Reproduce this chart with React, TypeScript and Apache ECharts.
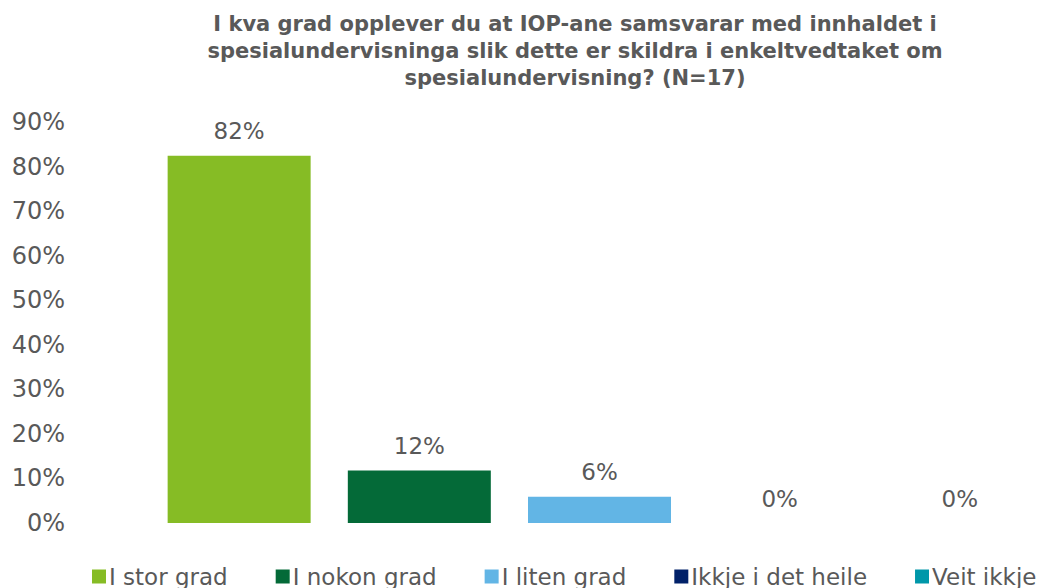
import React, { useEffect, useRef } from "react";
import * as echarts from "echarts";

const titleText =
  "I kva grad opplever du at IOP-ane samsvarar med innhaldet i\nspesialundervisninga slik dette er skildra i enkeltvedtaket om\nspesialundervisning? (N=17)";
const seriesNames = ["I stor grad", "I nokon grad", "I liten grad", "Ikkje i det heile", "Veit ikkje"];
const seriesValues = [82.4, 11.8, 5.9, 0, 0];
const seriesColors = ["#86BC25", "#046A38", "#62B5E5", "#012169", "#0097A9"];
const yTicks = [0, 10, 20, 30, 40, 50, 60, 70, 80, 90];

export default function App() {
  const ref = useRef<HTMLDivElement>(null);
  useEffect(() => {
    if (!ref.current) return;
    const chart = echarts.init(ref.current, undefined, { renderer: "svg" });
    const font = "'DejaVu Sans', Verdana, sans-serif";
    chart.setOption({
      animation: false,
      textStyle: { fontFamily: font },
      title: {
        text: titleText,
        left: 570,
        top: 5,
        textAlign: "center",
        textStyle: {
          fontFamily: font,
          fontSize: 21,
          fontWeight: "bold",
          color: "#595959",
          lineHeight: 27,
        },
      },
      grid: { left: 150, right: 3, top: 122, bottom: 65 },
      legend: {
        left: 87,
        top: 560,
        width: 2000,
        itemWidth: 14,
        itemHeight: 14,
        itemGap: 48,
        icon: "rect",
        textStyle: { fontFamily: font, fontSize: 23, color: "#595959", padding: [0, 0, 0, -2] },
        data: seriesNames,
      },
      xAxis: {
        type: "category",
        data: [""],
        axisLine: { show: false },
        axisTick: { show: false },
        axisLabel: { show: false },
      },
      yAxis: {
        type: "value",
        min: yTicks[0],
        max: yTicks[yTicks.length - 1],
        interval: 10,
        splitLine: { show: false },
        axisLine: { show: false },
        axisTick: { show: false },
        axisLabel: {
          formatter: (v: number) => `${v}%`,
          fontFamily: font,
          fontSize: 24,
          color: "#595959",
          margin: 85,
        },
      },
      series: seriesNames.map((name, i) => ({
        name,
        type: "bar",
        data: [seriesValues[i]],
        barWidth: 143,
        barGap: "26%",
        itemStyle: { color: seriesColors[i] },
        label: {
          show: true,
          position: "top",
          distance: 13,
          formatter: (p: any) => `${Math.round(p.value)}%`,
          fontFamily: font,
          fontSize: 23,
          color: "#595959",
        },
      })),
    });
    return () => chart.dispose();
  }, []);
  return <div ref={ref} style={{ width: 1052, height: 588, position: "absolute", left: 0, top: 0 }} />;
}
